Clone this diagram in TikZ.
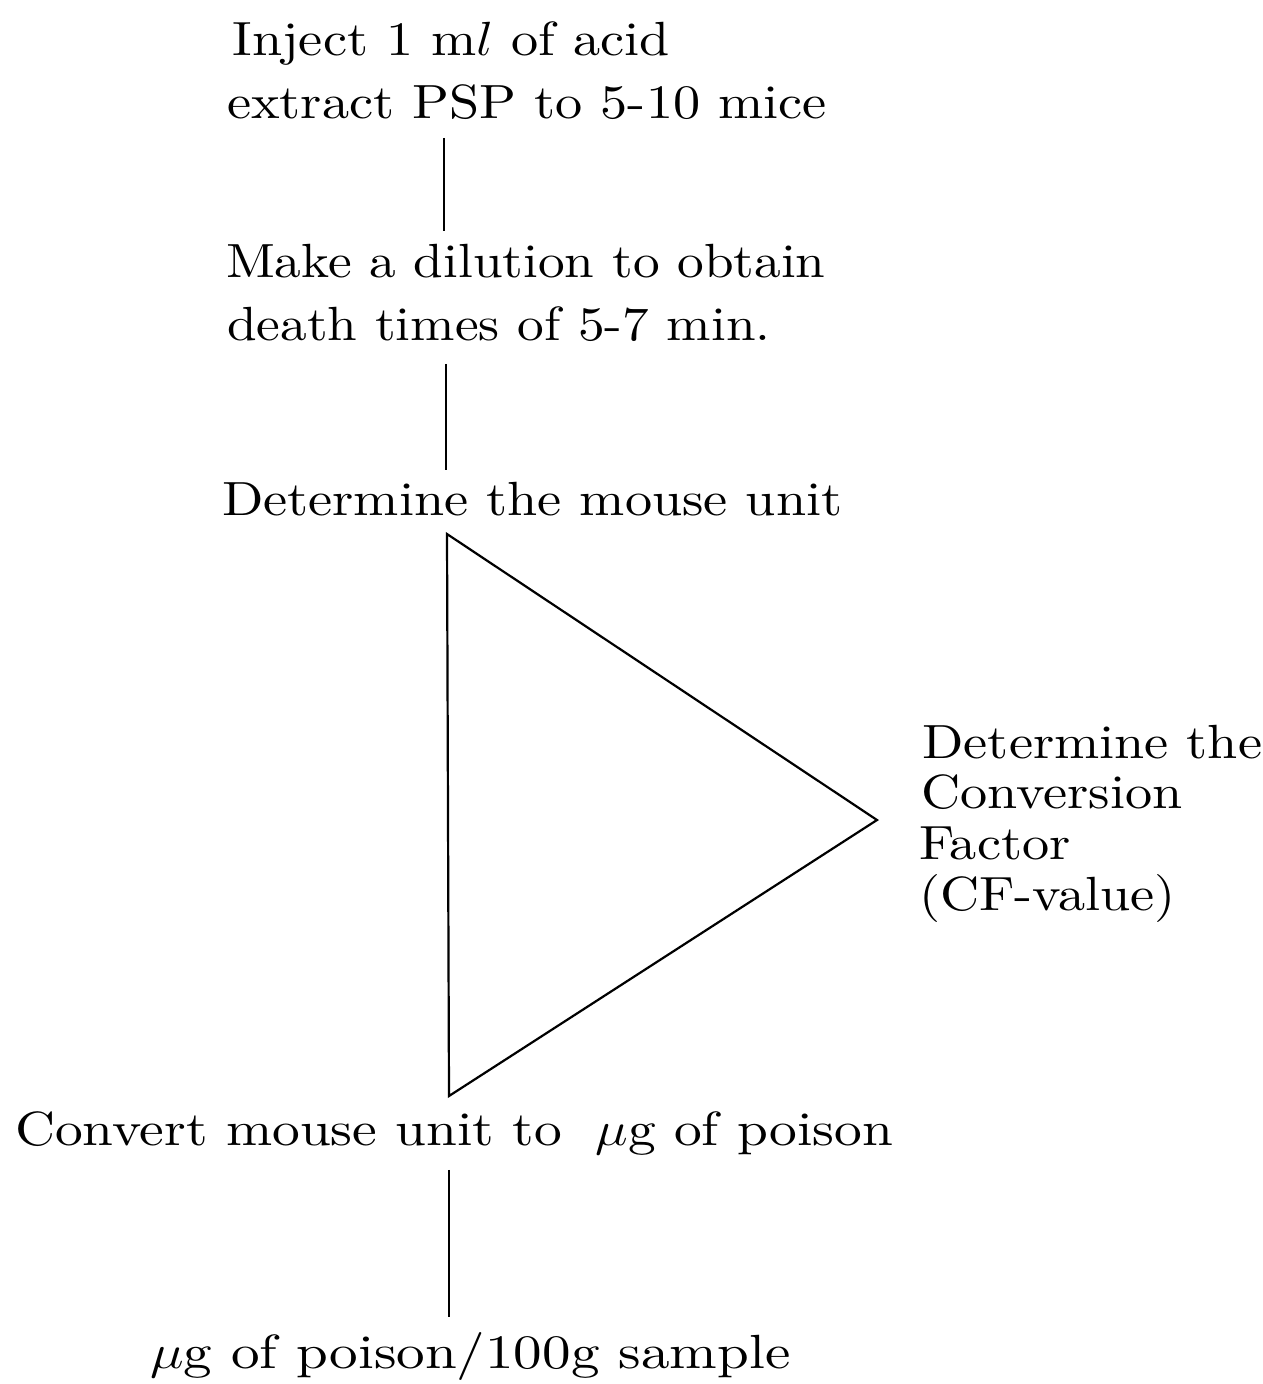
\RequirePackage{fix-cm}
\documentclass[tikz,border=0pt]{standalone}
\usepackage{fontspec}
\setmainfont{lmroman10-regular.otf}
\usepackage{graphicx}
\newcommand{\blk}[2][1.13]{\scalebox{#1}[1]{\begin{tabular}[t]{@{}l@{}}#2\end{tabular}}}
\tikzset{
  txt/.style={anchor=base west, inner sep=0pt, outer sep=0pt, font=\fontsize{48}{63}\selectfont},
  txtnarrow/.style={anchor=base west, inner sep=0pt, outer sep=0pt, font=\fontsize{48}{50.5}\selectfont},
  link/.style={line width=1.6pt},
  tri/.style={line width=2.2pt, line join=miter}
}
\begin{document}
\begin{tikzpicture}[x=1pt,y=-1pt]
\useasboundingbox (0,0) rectangle (1262,1384);
\node[txt] (A) at (227,55) {\blk{\hspace{5pt}Inject 1 m$l$ of acid\\extract PSP to 5-10 mice}};
\node[txt] (B) at (226,277) {\blk[1.11]{Make a dilution to obtain\\\hspace{1pt}death times of 5-7 min.}};
\node[txt] (C) at (222,515) {\blk{Determine the mouse unit}};
\node[txtnarrow] (D) at (919,758) {\blk{\hspace{3pt}Determine the\\\hspace{2pt}Conversion\\Factor\\(CF-value)}};
\node[txt] (E) at (15,1145) {\blk[1.155]{Convert mouse unit to\hspace{0.6em}$\mu$g of poison}};
\node[txt] (F) at (150,1368) {\blk[1.19]{$\mu$g of poison/100g sample}};
\coordinate (T) at (447,534);
\coordinate (R) at (877,820);
\coordinate (Bt) at (449,1096);
\draw[link] ([yshift=-1pt]A.south -| 444,0) -- ([yshift=2pt]B.north -| 444,0);
\draw[link] ([yshift=-5pt]B.south -| 446,0) -- ([yshift=1pt]C.north -| 446,0);
\draw[tri] (T) -- (R) -- (Bt) -- cycle;
\draw[link] ([yshift=-6pt]E.south -| 449,0) -- ([yshift=7pt]F.north -| 449,0);
\end{tikzpicture}
\end{document}
